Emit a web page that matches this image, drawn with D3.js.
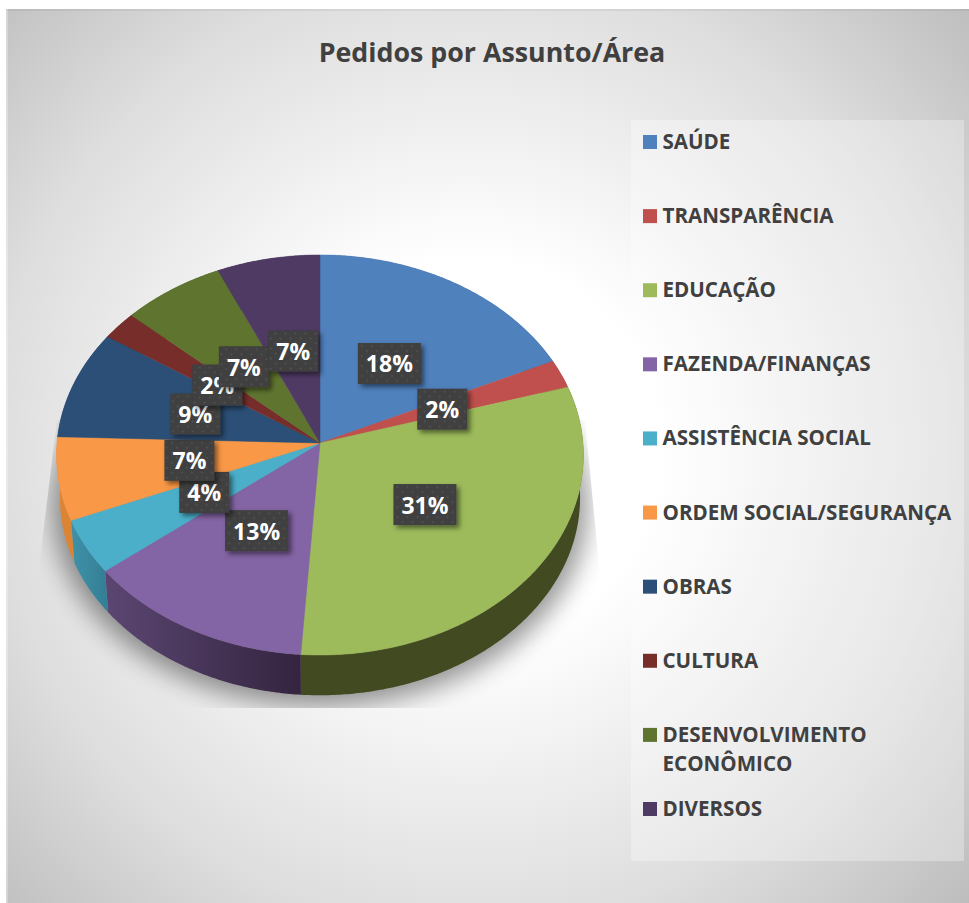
<!DOCTYPE html>
<html>
<head>
<meta charset="utf-8">
<script src="https://cdn.jsdelivr.net/npm/d3@7"></script>
<style>
	body { margin: 0; background: #fff; }
	svg { display: block; }
	text { font-family: "Open Sans", sans-serif; }
</style>
</head>
<body>
<div id="chart"></div>
<script>
// categories and shares (%)
var categories = ['SAÚDE', 'TRANSPARÊNCIA', 'EDUCAÇÃO', 'FAZENDA/FINANÇAS', 'ASSISTÊNCIA SOCIAL',
	'ORDEM SOCIAL/SEGURANÇA', 'OBRAS', 'CULTURA', 'DESENVOLVIMENTO|ECONÔMICO', 'DIVERSOS'];
var shares = [18.1, 2.3, 30.7, 13.3, 4.4, 6.7, 8.8, 2.3, 6.7, 6.7];
var colors = ['#4f81bd', '#c0504d', '#9dbb5b', '#8364a4', '#4bafca', '#f99846', '#2c4f77', '#772e2b', '#5f752f', '#4f3a64'];
var wallLeft = ['#3b608c', '#8f3b39', '#414a20', '#5b4672', '#3e92a8', '#db8434', '#213a58', '#582220', '#475723', '#3a2b4a'];
var wallRight = ['#3b608c', '#8f3b39', '#414a20', '#34243f', '#357f96', '#db8434', '#213a58', '#582220', '#475723', '#3a2b4a'];

var width = 969, height = 903;
var apex = { x: 320, y: 443 };
var persp = -0.06, radX = 263, radY = 199.3;
var depth = 43, lowerScale = 0.987;

var svg = d3.select('#chart').append('svg')
	.attr('width', width)
	.attr('height', height);
var defs = svg.append('defs');

// background
var bg = defs.append('radialGradient')
	.attr('id', 'bg')
	.attr('gradientUnits', 'userSpaceOnUse')
	.attr('cx', 470).attr('cy', 450).attr('r', 680);
[[0.28, '#ffffff'], [0.52, '#ececec'], [0.7, '#dedede'], [1, '#bcbcbc']].forEach(function (s) {
	bg.append('stop').attr('offset', s[0]).attr('stop-color', s[1]);
});
svg.append('rect')
	.attr('x', 6).attr('y', 9)
	.attr('width', width - 6).attr('height', height - 9)
	.attr('fill', 'url(#bg)');
svg.append('rect').attr('x', 6).attr('y', 9).attr('width', width - 6).attr('height', 2)
	.attr('fill', '#000').attr('opacity', 0.05);
svg.append('rect').attr('x', 6).attr('y', 9).attr('width', 2).attr('height', height - 9)
	.attr('fill', '#fff').attr('opacity', 0.3);

// title
svg.append('text')
	.attr('x', 492).attr('y', 62)
	.attr('text-anchor', 'middle')
	.attr('font-size', 26.8)
	.attr('font-weight', 700)
	.attr('fill', '#404040')
	.text('Pedidos por Assunto/Área');

// circle on the pie -> picture, with a little perspective
function project(angle, r) {
	var u = Math.sin(angle) * r, v = -Math.cos(angle) * r;
	var w = 1 + persp * v;
	return [apex.x + radX * u / w, apex.y + radY * v / w];
}
function lower(p) {
	return [apex.x + (p[0] - apex.x) * lowerScale, apex.y + (p[1] - apex.y) * lowerScale + depth];
}
function arcPoints(a0, a1) {
	var n = Math.max(2, Math.ceil((a1 - a0) / 0.01));
	return d3.range(n + 1).map(function (i) {
		return project(a0 + (a1 - a0) * i / n, 1);
	});
}

var line = d3.line();
var pie = d3.pie().sort(null).startAngle(0).endAngle(2 * Math.PI);
var slices = pie(shares);

// shadow below the pie, cut off by its plane
defs.append('filter').attr('id', 'blur')
	.attr('x', '-20%').attr('y', '-20%').attr('width', '140%').attr('height', '140%')
	.append('feGaussianBlur').attr('stdDeviation', 13);
defs.append('clipPath').attr('id', 'shadowClip')
	.append('path')
	.attr('d', line([[57, 420], [585, 420], [600, 575], [600, 708], [38, 708], [38, 575]]) + 'Z');
svg.append('g')
	.attr('clip-path', 'url(#shadowClip)')
	.append('path')
	.attr('d', line(arcPoints(0, 2 * Math.PI).map(function (p) {
		return [apex.x + (p[0] - apex.x) * 1.015, p[1] + depth + 8];
	})) + 'Z')
	.attr('fill', '#000')
	.attr('opacity', 0.42)
	.attr('filter', 'url(#blur)');

// side walls
slices.forEach(function (d, i) {
	var grad = defs.append('linearGradient')
		.attr('id', 'wall' + i)
		.attr('gradientUnits', 'userSpaceOnUse');
	var top = arcPoints(d.startAngle, d.endAngle);
	var xs = d3.extent(top, function (p) { return p[0]; });
	grad.attr('x1', xs[0]).attr('x2', xs[1]).attr('y1', 0).attr('y2', 0);
	grad.append('stop').attr('offset', 0).attr('stop-color', wallLeft[i]);
	grad.append('stop').attr('offset', 1).attr('stop-color', wallRight[i]);
	svg.append('path')
		.attr('class', 'wall')
		.attr('d', line(top.concat(top.map(lower).reverse())) + 'Z')
		.attr('fill', 'url(#wall' + i + ')');
});

// top of the pie
svg.append('g')
	.selectAll('path')
	.data(slices)
	.enter().append('path')
	.attr('d', function (d) {
		return line([[apex.x, apex.y]].concat(arcPoints(d.startAngle, d.endAngle))) + 'Z';
	})
	.attr('fill', function (d, i) { return colors[i]; })
	.attr('stroke', function (d, i) { return colors[i]; })
	.attr('stroke-width', 0.5);

// data labels
var dots = defs.append('pattern')
	.attr('id', 'dots')
	.attr('patternUnits', 'userSpaceOnUse')
	.attr('width', 10).attr('height', 10);
dots.append('rect').attr('width', 10).attr('height', 10).attr('fill', '#3f3f3f');
dots.append('circle').attr('cx', 2.5).attr('cy', 2.5).attr('r', 1).attr('fill', '#555');
dots.append('circle').attr('cx', 7.5).attr('cy', 7.5).attr('r', 1).attr('fill', '#555');

var shadow = defs.append('filter').attr('id', 'labelShadow')
	.attr('x', '-30%').attr('y', '-30%').attr('width', '170%').attr('height', '170%');
shadow.append('feDropShadow')
	.attr('dx', 3).attr('dy', 3).attr('stdDeviation', 2.5)
	.attr('flood-color', '#000').attr('flood-opacity', 0.5);

function labelText(d) { return Math.round(d.value) + '%'; }
function labelWidth(d) { return labelText(d).length > 2 ? 63 : 50; }

var boxH = 41;
var labels = svg.append('g')
	.selectAll('g')
	.data(slices)
	.enter().append('g')
	.attr('transform', function (d) {
		var p = project((d.startAngle + d.endAngle) / 2, 0.485);
		return 'translate(' + (apex.x + (p[0] - apex.x) * 1.035) + ',' + p[1] + ')';
	});
labels.append('rect')
	.attr('x', function (d) { return -labelWidth(d) / 2; })
	.attr('y', -boxH / 2)
	.attr('width', labelWidth)
	.attr('height', boxH)
	.attr('fill', 'url(#dots)')
	.attr('filter', 'url(#labelShadow)');
labels.append('text')
	.attr('text-anchor', 'middle')
	.attr('y', 9)
	.attr('font-size', 23)
	.attr('font-weight', 700)
	.attr('fill', '#fff')
	.text(labelText);

// legend
svg.append('rect')
	.attr('x', 631).attr('y', 120)
	.attr('width', 333).attr('height', 741)
	.attr('fill', '#fff').attr('opacity', 0.3);

var legendY = d3.scalePoint()
	.domain(categories)
	.range([142, 809]);

var legend = svg.append('g')
	.selectAll('g')
	.data(categories)
	.enter().append('g')
	.attr('transform', function (d) { return 'translate(643,' + legendY(d) + ')'; });
legend.append('rect')
	.attr('y', -7)
	.attr('width', 14).attr('height', 14)
	.attr('fill', function (d, i) { return colors[i]; });
legend.append('text')
	.attr('font-size', 20.6)
	.attr('font-weight', 700)
	.attr('fill', '#404040')
	.selectAll('tspan')
	.data(function (d) { return d.split('|'); })
	.enter().append('tspan')
	.attr('x', 19.5)
	.attr('y', function (d, i) { return 7 + i * 29; })
	.text(function (d) { return d; });
</script>
</body>
</html>
